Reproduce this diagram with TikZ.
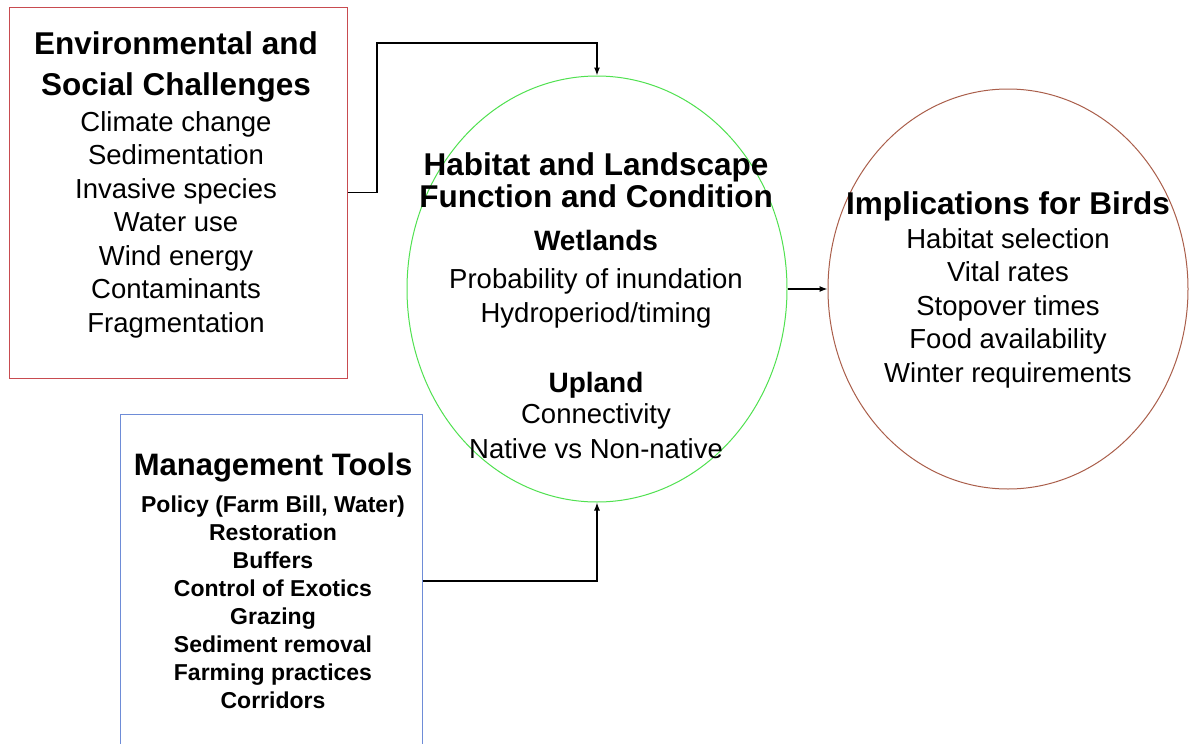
\documentclass[tikz,border=0pt]{standalone}
\usepackage{fontspec}
\setmainfont{Liberation Sans}
\usetikzlibrary{arrows.meta,positioning,shapes.geometric}
\definecolor{boxred}{RGB}{200,75,80}
\definecolor{boxblue}{RGB}{110,140,215}
\definecolor{ringgreen}{RGB}{80,225,80}
\definecolor{ringbrown}{RGB}{170,95,75}
\tikzset{
    panel/.style={rectangle,draw,line width=1pt,inner sep=0pt},
    ring/.style={ellipse,draw,line width=1pt,inner sep=0pt},
    head/.style={align=center,inner sep=0pt,font=\bfseries\fontsize{31.5}{41}\selectfont},
    subhead/.style={align=center,inner sep=0pt,font=\bfseries\fontsize{28}{34}\selectfont},
    items/.style={align=center,inner sep=0pt,font=\fontsize{27.5}{33.5}\selectfont},
    link/.style={-{Latex[length=8pt,width=6pt]},line width=1.3pt}
}
\begin{document}
\begin{tikzpicture}[x=1pt,y=-1pt]
    \useasboundingbox[fill=white] (0,0) rectangle (1189,744);
    % outlines
    \node[panel,draw=boxred,minimum width=338pt,minimum height=371pt] (challenges) at (178,192.5) {};
    \node[ring,draw=ringgreen,minimum width=380pt,minimum height=426pt] (habitat) at (597,289) {};
    \node[ring,draw=ringbrown,minimum width=360pt,minimum height=400pt] (birds) at (1008,289) {};
    \node[panel,draw=boxblue,minimum width=302pt,minimum height=334pt] (tools) at (271,581) {};
    % texts
    \node[head,anchor=north] (challengeshead) at (176,31.3) {Environmental and\\Social Challenges};
    \node[items,anchor=north] (challengeslist) at (176,111.2) {Climate change\\Sedimentation\\Invasive species\\Water use\\Wind energy\\Contaminants\\Fragmentation};
    \node[head,anchor=north,font=\bfseries\fontsize{31.5}{32}\selectfont] (habitathead) at (596,152.3) {Habitat and Landscape\\Function and Condition};
    \node[subhead,anchor=north] (wetlands) at (596,229.8) {Wetlands};
    \node[items,anchor=north,font=\fontsize{27.5}{34}\selectfont] (wetlandslist) at (596,268.2) {Probability of inundation\\Hydroperiod/timing};
    \node[subhead,anchor=north] (upland) at (596,371.8) {Upland};
    \node[items,anchor=north,font=\fontsize{27.5}{35}\selectfont] (uplandlist) at (596,403.2) {Connectivity\\Native vs Non-native};
    \node[head,anchor=north] (birdshead) at (1008,191.3) {Implications for Birds};
    \node[items,anchor=north] (birdslist) at (1008,228.2) {Habitat selection\\Vital rates\\Stopover times\\Food availability\\Winter requirements};
    \node[head,anchor=north,font=\bfseries\fontsize{31}{41}\selectfont] (toolshead) at (273,452.7) {Management Tools};
    \node[items,anchor=north,font=\bfseries\fontsize{23}{28}\selectfont] (toolslist) at (273,495.3) {Policy (Farm Bill, Water)\\Restoration\\Buffers\\Control of Exotics\\Grazing\\Sediment removal\\Farming practices\\Corridors};
    % connectors
    \coordinate (corner) at (377,43);
    \draw[link] (challenges.east) -| (corner) -| (habitat.north);
    \draw[link] (habitat.east) -- (birds.west);
    \draw[link] (tools.east) -| (habitat.south);
\end{tikzpicture}
\end{document}
